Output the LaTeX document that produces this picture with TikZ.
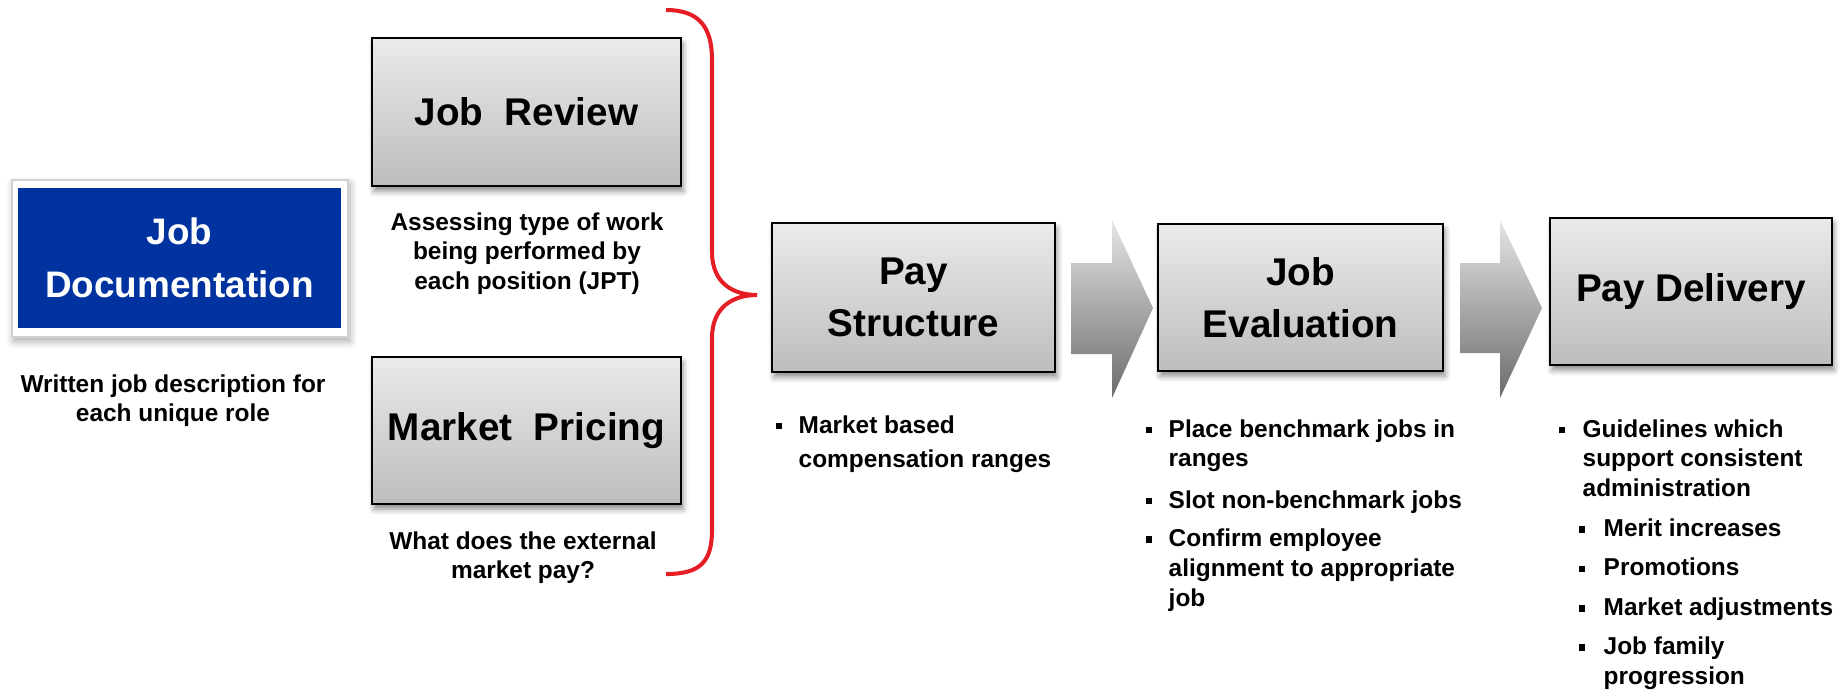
\documentclass[tikz,border=0pt]{standalone}
\usepackage{fontspec}
\setmainfont{Liberation Sans}
\usetikzlibrary{shadows.blur}
\definecolor{docblue}{RGB}{0,51,160}
\definecolor{bracered}{RGB}{228,30,36}
% square bullets for the lists
\newcommand{\sqbul}{\rule[1pt]{1.9pt}{1.9pt}}
\newcommand{\pitem}[1][2.3mm]{\makebox[#1][l]{\sqbul}}
\newcommand{\ppad}[1][2.3mm]{\hspace*{#1}}

\tikzset{
  stagebox/.style={draw=black, line width=0.75pt, top color=black!8,
    bottom color=black!26, inner sep=0pt, align=center,
    font=\bfseries\fontsize{11}{14.8}\selectfont,
    blur shadow={shadow xshift=0.6pt, shadow yshift=-1.5pt,
      shadow blur radius=1.6pt, shadow opacity=45}},
  note/.style={inner sep=0pt, anchor=base, font=\bfseries\fontsize{6.95}{8.5}\selectfont},
  steplist/.style={inner sep=0pt, anchor=base west, font=\bfseries\fontsize{6.95}{8.5}\selectfont},
  flowarrow/.style={top color=black!10, bottom color=black!58}
}

\begin{document}
\begin{tikzpicture}[x=0.1mm, y=-0.1mm]
\useasboundingbox (0,0) rectangle (1847,689);

% documentation card: white frame with the blue panel on top
\node[fill=white, draw=black!18, line width=0.4pt, minimum width=33.6mm, minimum height=15.7mm,
  blur shadow={shadow xshift=0.5pt, shadow yshift=-1.2pt, shadow opacity=35}] (docframe) at (180,258.5) {};
\node[fill=docblue, text=white, minimum width=32.3mm, minimum height=14mm, inner sep=0pt, align=center,
  font=\bfseries\fontsize{10.5}{15}\selectfont] (doc) at (179.5,258) {Job\\Documentation};
\node[note] (doctxt) at (173,392) {\begin{tabular}[t]{@{}c@{}}Written job description for\\each unique role\end{tabular}};

% the two inputs
\node[stagebox, minimum width=30.9mm, minimum height=14.8mm] (review) at (526.5,112) {Job~~Review};
\node[note] (reviewtxt) at (527,230) {\begin{tabular}[t]{@{}c@{}}Assessing type of work\\being performed by\\each position (JPT)\end{tabular}};
\node[stagebox, minimum width=30.9mm, minimum height=14.7mm] (pricing) at (526.5,430.5) {Market~~Pricing};
\node[note] (pricingtxt) at (523,549) {\begin{tabular}[t]{@{}c@{}}What does the external\\market pay?\end{tabular}};

% brace joining both inputs
\draw[bracered, line width=1.15pt] (666,10) .. controls (700,10) and (712,28) .. (712,60) -- (712,252)
  .. controls (712,283) and (733,295) .. (757,295) .. controls (733,295) and (712,307) .. (712,338)
  -- (712,530) .. controls (712,562) and (700,574) .. (666,574);

% stages
\node[stagebox, minimum width=28.3mm, minimum height=14.9mm] (structure) at (913.5,297.5) {Pay\\Structure};
\node[stagebox, minimum width=28.5mm, minimum height=14.7mm] (evaluation) at (1300.5,297.5) {Job\\Evaluation};
\node[stagebox, minimum width=28.2mm, minimum height=14.7mm] (delivery) at (1691,291.5) {Pay Delivery};

% block arrows between the stages
\shade[flowarrow] (1071,263) -- (1112,263) -- (1112,220) -- (1153,308) -- (1112,398) -- (1112,354) -- (1071,354) -- cycle;
\shade[flowarrow] (1460,263) -- (1500,263) -- (1500,220) -- (1542,308) -- (1500,398) -- (1500,353) -- (1460,353) -- cycle;

% lists under the stages
\node[steplist] (structurelist) at (775,433) {\begin{tabular}[t]{@{}l@{}}
  \pitem Market based\\[1.2pt] \ppad compensation ranges
\end{tabular}};
\node[steplist] (evaluationlist) at (1145,437) {\begin{tabular}[t]{@{}l@{}}
  \pitem Place benchmark jobs in\\ \ppad ranges\\[3.2pt]
  \pitem Slot non-benchmark jobs\\[2.4pt]
  \pitem Confirm employee\\ \ppad alignment to appropriate\\ \ppad job
\end{tabular}};
\node[steplist] (deliverylist) at (1558,437) {\begin{tabular}[t]{@{}l@{}}
  \pitem[2.4mm]Guidelines which\\ \ppad[2.4mm]support consistent\\ \ppad[2.4mm]administration\\[2.8pt]
  \ppad[2mm]\pitem[2.5mm]Merit increases\\[2.7pt]
  \ppad[2mm]\pitem[2.5mm]Promotions\\[2.7pt]
  \ppad[2mm]\pitem[2.5mm]Market adjustments\\[2.7pt]
  \ppad[2mm]\pitem[2.5mm]Job family\\ \ppad[4.5mm]progression
\end{tabular}};
\end{tikzpicture}
\end{document}
